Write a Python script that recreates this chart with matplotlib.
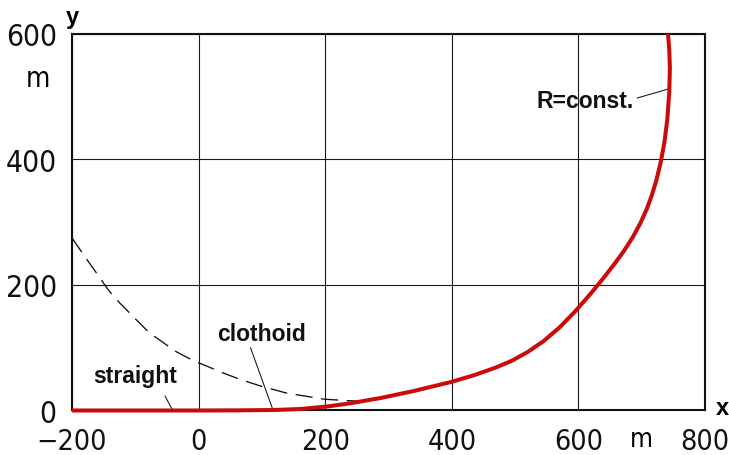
import os
import matplotlib
matplotlib.use("Agg")
import matplotlib.pyplot as plt
from matplotlib import font_manager

# road alignment: straight -> clothoid -> circular arc (R = const.)
road_x = [-200, 0, 60, 120, 161, 204, 241, 288, 341, 399, 435, 470, 495,
          520, 545, 570, 595, 620, 640, 657, 672, 686, 698, 708, 716, 723,
          730, 736, 740.5, 743.5, 744.5, 743.5, 741.6]
road_y = [0, 0, 0.2, 0.8, 2.4, 6.5, 11.7, 20, 31.3, 45.5, 56.2, 68.6, 79.4,
          93.3, 110.6, 132.2, 158.1, 186.9, 211.6, 233.6, 254.4, 276.4,
          298.7, 321.2, 343.2, 366.4, 395.6, 428, 464.6, 507.5, 545.6,
          574.2, 600]

# the circle continued without the transition curve
circle_x = [-200, -181, -162, -144, -133, -94, -78, -36, -17, 0, 17, 33,
            67, 98, 138, 198, 248, 272]
circle_y = [275, 247, 220, 194, 180, 140, 124, 94, 84, 76, 69, 62,
            49, 39, 28, 18, 15, 15]

x_ticks = [-200, 0, 200, 400, 600, 800]
x_labels = ["\u2212200", "0", "200", "400", "600", "800"]
y_ticks = [0, 200, 400, 600]
y_labels = ["0", "200", "400", "600"]

# leader lines: (text, text anchor, line start, line end)
notes = [
    ("straight", (-167, 45), (-53, 23), (-42, 2)),
    ("clothoid", (30, 113), (82, 100), (117, 2)),
    ("R=const.", (534, 484), (693, 498), (741, 512)),
]


def narrow_font():
    # look for an upright condensed face of normal/light weight
    best, best_score = None, None
    for f in font_manager.fontManager.ttflist:
        base = os.path.basename(f.fname).lower()
        if f.style != "normal" or "italic" in base:
            continue
        if "narrow" not in base and "condensed" not in base and "cond" not in str(f.stretch):
            continue
        if "extra" in base or "ultra" in base:
            continue
        w = f.weight if isinstance(f.weight, int) else font_manager.weight_dict.get(f.weight, 400)
        score = abs(w - 380) + (40 if "semi" in base else 0)
        if best_score is None or score < best_score:
            best, best_score = f.fname, score
    return best


path = narrow_font()
if path:
    num_prop = font_manager.FontProperties(fname=path)
else:
    num_prop = font_manager.FontProperties(family="DejaVu Sans")

fig = plt.figure(figsize=(7.29, 4.56), dpi=100)
ax = fig.add_axes([0.0988, 0.0976, 0.8683, 0.8257])

ax.plot(road_x, road_y, color="#cc0a0a", lw=2.9, solid_capstyle="butt",
        solid_joinstyle="round", clip_on=False, zorder=4)
ax.plot(circle_x, circle_y, color="#111111", lw=0.95, dashes=(13, 6.5),
        zorder=3)

for txt, (tx, ty), (x0, y0), (x1, y1) in notes:
    ax.text(tx, ty, txt, fontsize=16.5, fontweight="bold",
            family="Liberation Sans", color="#111111", va="baseline")
    ax.plot([x0, x1], [y0, y1], color="#111111", lw=0.75, zorder=3)

ax.set_xlim(-200, 800)
ax.set_ylim(0, 600)
ax.set_xticks(x_ticks)
ax.set_xticklabels(x_labels)
ax.set_yticks(y_ticks)
ax.set_yticklabels(y_labels)
ax.tick_params(length=0)
ax.tick_params(axis="x", pad=12)
ax.tick_params(axis="y", pad=11)
for lab in ax.get_xticklabels():
    lab.set_fontproperties(num_prop)
    lab.set_fontsize(20.5)
    lab.set_color("#111111")
for lab in ax.get_yticklabels():
    lab.set_fontproperties(num_prop)
    lab.set_fontsize(21.5)
    lab.set_color("#111111")

ax.grid(True, color="#1a1a1a", lw=0.8)
ax.set_axisbelow(True)
for s in ax.spines.values():
    s.set_linewidth(1.5)
    s.set_color("#111111")

# axis names and units
ax.text(-200, 618, "y", fontsize=17, fontweight="bold", family="Liberation Sans",
        ha="center", va="baseline", clip_on=False)
ax.text(828, 4, "x", fontsize=17, fontweight="bold", family="Liberation Sans",
        ha="center", va="center", clip_on=False)
ax.text(-254, 530, "m", fontproperties=num_prop, fontsize=20, ha="center",
        va="center", clip_on=False)
ax.text(699, -45, "m", fontproperties=num_prop, fontsize=19, ha="center",
        va="center", clip_on=False)

fig.savefig("out.png", dpi=100)
